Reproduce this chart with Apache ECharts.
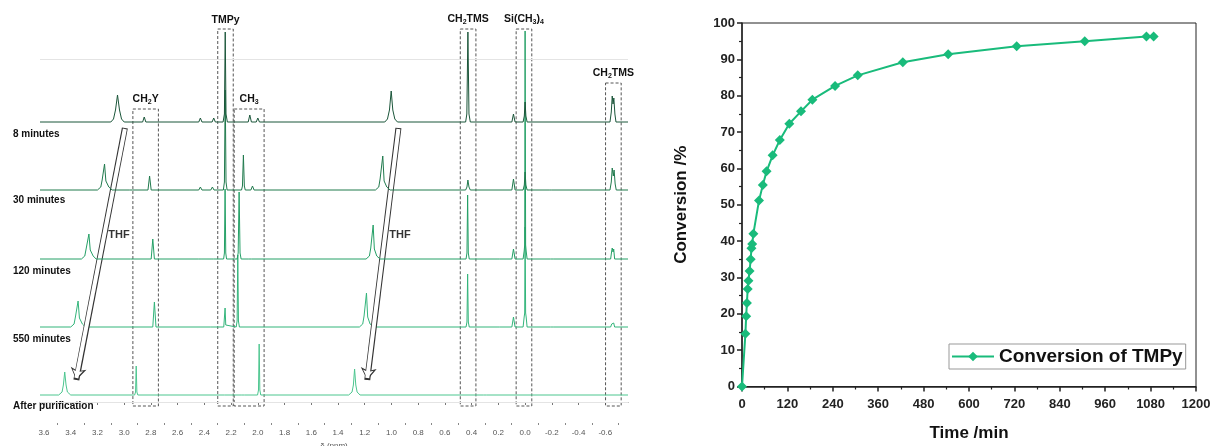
<!DOCTYPE html>
<html>
<head>
<meta charset="utf-8">
<script src="https://cdn.jsdelivr.net/npm/echarts@6/dist/echarts.min.js"></script>
<style>html,body{margin:0;padding:0;background:#fff}#c{width:1213px;height:446px}</style>
</head>
<body>
<div id="c"></div>
<script>
// ---------- DATA: right chart ----------
const times = [0, 9, 11, 13, 15, 17, 20, 23, 25, 27, 30, 45, 55, 65, 81, 100, 125, 156, 186, 246, 306, 425, 545, 726, 906, 1069, 1088];
const conversion = [0, 14.5, 19.3, 23.0, 26.8, 29.1, 31.8, 35.0, 38.0, 39.2, 42.0, 51.2, 55.4, 59.2, 63.6, 67.8, 72.3, 75.7, 78.9, 82.7, 85.6, 89.2, 91.4, 93.6, 95.0, 96.3, 96.3];
const seriesName = 'Conversion of TMPy';

// ---------- DATA: NMR spectra [ppm, intensity] ----------
const spectrumNames = ['8 minutes', '30 minutes', '120 minutes', '550 minutes', 'After purification'];
const spec8 = [[3.63,0],[3.10,0],[3.08,3],[3.065,12],[3.05,27],[3.035,12],[3.02,3],[3.0,0],
  [2.862,0],[2.85,5],[2.838,0],[2.442,0],[2.43,4],[2.418,0],[2.342,0],[2.33,4],[2.318,0],
  [2.26,0],[2.25,8],[2.244,90],[2.238,8],[2.228,0],[2.072,0],[2.06,7],[2.048,0],[2.012,0],[2.0,4],[1.988,0],
  [1.05,0],[1.03,3],[1.015,12],[1.002,31],[0.99,12],[0.975,3],[0.955,0],
  [0.445,0],[0.436,8],[0.428,90],[0.42,8],[0.41,0],[0.099,0],[0.087,8],[0.075,0],
  [0.015,0],[0.006,6],[0.0,20],[-0.006,6],[-0.015,0],
  [-0.635,0],[-0.645,10],[-0.652,26],[-0.658,18],[-0.664,24],[-0.672,8],[-0.68,0],[-0.77,0]];
const spec30 = [[3.63,0],[3.20,0],[3.175,3],[3.165,10],[3.158,8],[3.147,26],[3.137,9],[3.128,10],[3.115,3],[3.09,0],
  [2.962,0],[2.95,1.5],[2.938,0],[2.822,0],[2.81,14],[2.798,0],[2.442,0],[2.43,3],[2.418,0],[2.352,0],[2.34,3],[2.328,0],
  [2.258,0],[2.25,8],[2.244,100],[2.238,8],[2.23,0],[2.122,0],[2.115,4],[2.108,35],[2.101,4],[2.094,0],
  [2.052,0],[2.04,4],[2.028,0],
  [1.12,0],[1.095,3],[1.085,11],[1.075,9],[1.065,34],[1.055,9],[1.045,11],[1.035,3],[1.01,0],
  [0.445,0],[0.435,3],[0.428,10],[0.42,3],[0.41,0],[0.099,0],[0.087,11],[0.075,0],
  [0.015,0],[0.006,5],[0.0,18],[-0.006,5],[-0.015,0],[-0.18,0],[-0.19,1],[-0.2,0],
  [-0.635,0],[-0.645,8],[-0.652,22],[-0.66,14],[-0.666,20],[-0.674,6],[-0.682,0],[-0.77,0]];
const spec120 = [[3.63,0],[3.32,0],[3.295,3],[3.285,10],[3.276,8],[3.264,25],[3.254,9],[3.245,10],[3.232,3],[3.21,0],
  [2.952,0],[2.94,1.5],[2.928,0],[2.798,0],[2.786,20],[2.774,0],[2.442,0],[2.43,2],[2.418,0],[2.35,0],[2.34,2],[2.33,0],
  [2.256,0],[2.25,6],[2.245,70],[2.24,6],[2.234,0],[2.155,0],[2.147,6],[2.14,67],[2.133,6],[2.125,0],
  [2.072,0],[2.06,2],[2.048,0],
  [1.19,0],[1.165,3],[1.155,11],[1.146,10],[1.137,34],[1.128,10],[1.119,11],[1.11,3],[1.085,0],
  [0.442,0],[0.435,6],[0.43,64],[0.425,6],[0.418,0],[0.21,0],[0.2,1],[0.19,0],[0.099,0],[0.087,10],[0.075,0],
  [0.015,0],[0.007,8],[0.003,14],[0.0,228],[-0.004,14],[-0.008,8],[-0.015,0],[-0.19,0],[-0.2,1],[-0.21,0],
  [-0.64,0],[-0.648,8],[-0.652,11],[-0.658,7],[-0.663,10],[-0.67,0],[-0.77,0]];
const spec550 = [[3.63,0],[3.40,0],[3.375,3],[3.365,10],[3.356,8],[3.345,26],[3.335,9],[3.326,10],[3.313,3],[3.29,0],
  [2.786,0],[2.774,25],[2.762,0],[2.352,0],[2.34,1],[2.328,0],
  [2.255,0],[2.25,2],[2.245,19],[2.24,2],[2.235,0],[2.162,0],[2.155,6],[2.15,72],[2.145,6],[2.138,0],
  [1.24,0],[1.215,3],[1.205,11],[1.196,10],[1.187,34],[1.178,10],[1.169,11],[1.16,3],[1.135,0],
  [0.442,0],[0.435,5],[0.43,53],[0.425,5],[0.418,0],[0.21,0],[0.2,1],[0.19,0],[0.099,0],[0.087,10],[0.075,0],
  [0.015,0],[0.007,10],[0.003,14],[0.0,100],[-0.004,14],[-0.008,10],[-0.015,0],[-0.19,0],[-0.2,1],[-0.21,0],
  [-0.64,0],[-0.648,3],[-0.652,5],[-0.658,3],[-0.663,4],[-0.67,0],[-0.77,0]];
const specPure = [[3.63,0],[3.49,0],[3.465,3],[3.455,10],[3.445,23],[3.435,10],[3.425,3],[3.40,0],
  [2.922,0],[2.915,3],[2.91,29],[2.905,3],[2.898,0],[2.25,0],[2.245,2],[2.24,0],[2.12,0],[2.11,1],[2.10,0],
  [2.002,0],[1.995,5],[1.99,51],[1.985,5],[1.978,0],
  [1.32,0],[1.295,3],[1.285,10],[1.276,26],[1.267,10],[1.257,3],[1.235,0],
  [0.31,0],[0.3,1.5],[0.29,0],[-0.77,0]];

// region annotations: [label, ppm from, ppm to]
const regions = [['CH{s|2}Y', 2.935, 2.744], ['TMPy', 2.30, 2.184], ['CH{s|3}', 2.177, 1.953],
  ['CH{s|2}TMS', 0.485, 0.368], ['Si(CH{s|3}){s|4}', 0.067, -0.05], ['CH{s|2}TMS', -0.602, -0.719]];
const ppmMajor = [3.6,3.4,3.2,3.0,2.8,2.6,2.4,2.2,2.0,1.8,1.6,1.4,1.2,1.0,0.8,0.6,0.4,0.2,0.0,-0.2,-0.4,-0.6];
const ppmMinor = [3.5,3.3,3.1,2.9,2.7,2.5,2.3,2.1,1.9,1.7,1.5,1.3,1.1,0.9,0.7,0.5,0.3,0.1,-0.1,-0.3,-0.5,-0.7];
// THF arrows [ppm start, ppm end]
const thfArrows = [[2.995, 3.358], [0.948, 1.181]];
const thfLabelPpm = [3.035, 0.933];

// ---------- layout (pixel-like units of left panel) ----------
const baselines = [280, 212, 143, 75, 7];
const nameLevels = [268, 202, 131, 63, -4];
const regionTops = [293, 373, 293, 373, 373, 319];
const colors = ['#1b563a', '#207a4d', '#24a066', '#33b57b', '#4cc68f'];
const FONT = 'Liberation Sans, Arial, sans-serif';
const spectra = [spec8, spec30, spec120, spec550, specPure];

const chart = echarts.init(document.getElementById('c'));
const series = [];
spectra.forEach((s, i) => {
  series.push({
    type: 'line', xAxisIndex: 0, yAxisIndex: 0, name: spectrumNames[i],
    data: s.map(p => [p[0], p[1] + baselines[i]]),
    showSymbol: false, symbol: 'none', lineStyle: {color: colors[i], width: 1}, z: 5 - i + 2, silent: true
  });
});
const rich = {s: {fontSize: 7, fontWeight: 'bold', fontFamily: FONT, padding: [6, 0, 0, 0], color: '#111'}};
series.push({
  type: 'line', xAxisIndex: 0, yAxisIndex: 0, data: [], silent: true, z: 1,
  markLine: {symbol: 'none', silent: true, label: {show: false},
    lineStyle: {color: '#e4e4e4', type: 'solid', width: 1},
    data: [{yAxis: 0}, {yAxis: 343}]},
  markArea: {silent: true,
    itemStyle: {color: 'rgba(0,0,0,0)', borderColor: '#555', borderWidth: 1, borderType: [3, 2]},
    label: {show: true, position: 'top', distance: 3, fontFamily: FONT, fontWeight: 'bold', fontSize: 10.5, color: '#111', rich: rich},
    data: regions.map((r, i) => [{name: r[0], coord: [r[1], regionTops[i]]}, {coord: [r[2], -4]}])}
});
series.push({
  type: 'line', xAxisIndex: 0, yAxisIndex: 0, data: [], silent: true, z: 20,
  markLine: {symbol: ['none', 'arrow'], symbolSize: 12, silent: true, label: {show: false},
    lineStyle: {color: '#333', type: 'solid', width: 6},
    data: thfArrows.map(a => [{coord: [a[0], 274]}, {coord: [a[1], 22]}])}
});
series.push({
  type: 'line', xAxisIndex: 0, yAxisIndex: 0, data: [], silent: true, z: 21,
  markLine: {symbol: ['none', 'arrow'], symbolSize: 8, silent: true, label: {show: false},
    lineStyle: {color: '#fff', type: 'solid', width: 4},
    data: thfArrows.map(a => [{coord: [a[0], 273]}, {coord: [a[1], 24]}])}
});
series.push({
  type: 'scatter', xAxisIndex: 0, yAxisIndex: 0, symbolSize: 1, silent: true, z: 22,
  itemStyle: {color: 'rgba(0,0,0,0)'},
  data: thfLabelPpm.map(p => [p, 167]),
  label: {show: true, position: [0, 0], align: 'center', verticalAlign: 'middle', formatter: 'THF',
    fontFamily: FONT, fontWeight: 'bold', fontSize: 11, color: '#000', textBorderWidth: 0}
});
series.push({
  type: 'line', name: seriesName, xAxisIndex: 2, yAxisIndex: 1,
  data: times.map((t, i) => [t, conversion[i]]),
  symbol: 'diamond', symbolSize: 10, showSymbol: true,
  lineStyle: {color: '#19bb7b', width: 2}, itemStyle: {color: '#19bb7b'}, z: 5
});

const boldLab = {fontFamily: FONT, fontWeight: 'bold', fontSize: 13, color: '#222'};
chart.setOption({
  animation: false,
  backgroundColor: '#fff',
  textStyle: {fontFamily: FONT},
  grid: [
    {left: 40, right: 585, top: 25, bottom: 34, outerBoundsMode: 'none', containLabel: false},
    {left: 742, right: 17, top: 23, bottom: 59.5, outerBoundsMode: 'none', containLabel: false,
      show: true, borderColor: '#222', borderWidth: 1, backgroundColor: 'rgba(0,0,0,0)'}
  ],
  legend: {
    data: [seriesName], left: 949, top: 344, orient: 'horizontal',
    borderColor: '#999', borderWidth: 1, padding: [3, 3, 3, 2], itemWidth: 42, itemHeight: 12, itemGap: 4,
    textStyle: {fontFamily: FONT, fontWeight: 'bold', fontSize: 19, color: '#111'}
  },
  xAxis: [
    {type: 'value', gridIndex: 0, min: -0.77, max: 3.63, inverse: true, position: 'bottom', offset: 11,
      axisLine: {lineStyle: {color: '#777', width: 1}},
      axisTick: {show: true, length: 3, customValues: ppmMajor, lineStyle: {color: '#777'}},
      axisLabel: {customValues: ppmMajor, fontSize: 8, color: '#555', margin: 6, formatter: v => v.toFixed(1)},
      splitLine: {show: false},
      name: 'δ (ppm)', nameLocation: 'middle', nameGap: 12, nameTextStyle: {fontSize: 8, color: '#555'}},
    {type: 'value', gridIndex: 0, min: -0.77, max: 3.63, inverse: true, position: 'bottom', offset: 11,
      axisLine: {show: false},
      axisTick: {show: true, length: 2, customValues: ppmMinor, lineStyle: {color: '#888'}},
      axisLabel: {show: false}, splitLine: {show: false}},
    {type: 'value', gridIndex: 1, min: 0, max: 1200, interval: 120,
      axisLine: {lineStyle: {color: '#222', width: 1.5}},
      axisTick: {show: true, length: 5, lineStyle: {color: '#222', width: 1.5}},
      minorTick: {show: true, splitNumber: 2, length: 3, lineStyle: {color: '#222', width: 1.2}},
      axisLabel: Object.assign({margin: 11, formatter: v => String(v)}, boldLab),
      splitLine: {show: false},
      name: 'Time /min', nameLocation: 'middle', nameGap: 38,
      nameTextStyle: {fontFamily: FONT, fontWeight: 'bold', fontSize: 17, color: '#111'}}
  ],
  yAxis: [
    {type: 'value', gridIndex: 0, min: -10, max: 377,
      axisLine: {show: false}, axisTick: {show: false}, splitLine: {show: false},
      axisLabel: {customValues: nameLevels, align: 'left', margin: 27,
        fontFamily: FONT, fontWeight: 'bold', fontSize: 10, color: '#111',
        formatter: v => spectrumNames[nameLevels.indexOf(v)] || ''}},
    {type: 'value', gridIndex: 1, min: 0, max: 100, interval: 10,
      axisLine: {lineStyle: {color: '#222', width: 1.5}},
      axisTick: {show: true, length: 5, lineStyle: {color: '#222', width: 1.5}},
      minorTick: {show: true, splitNumber: 2, length: 3, lineStyle: {color: '#222', width: 1.2}},
      axisLabel: Object.assign({margin: 7}, boldLab),
      splitLine: {show: false},
      name: 'Conversion /%', nameLocation: 'middle', nameGap: 52,
      nameTextStyle: {fontFamily: FONT, fontWeight: 'bold', fontSize: 17, color: '#111'}}
  ],
  series: series
});
</script>
</body>
</html>
